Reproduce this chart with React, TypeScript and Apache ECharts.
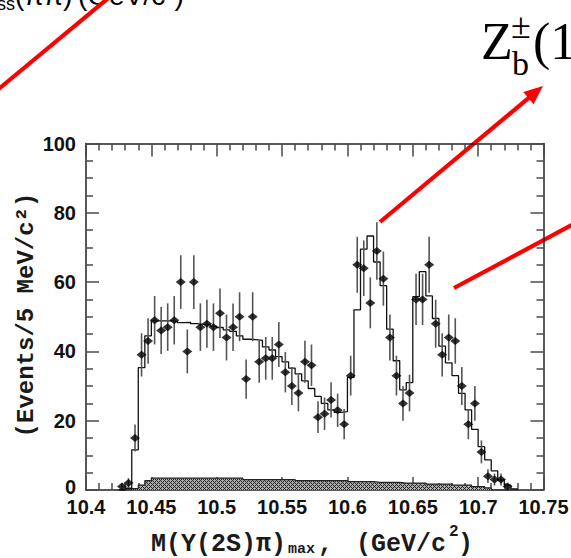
import React, { useEffect, useRef } from "react";
import * as echarts from "echarts";

// Mass bin centres (GeV/c^2) of the measured points
const massBins = [
  10.4275, 10.4325, 10.4375, 10.4425, 10.4475, 10.4525, 10.4575, 10.4625, 10.4675, 10.4725,
  10.4775, 10.4825, 10.4875, 10.4925, 10.4975, 10.5025, 10.5075, 10.5125, 10.5175, 10.5225,
  10.5275, 10.5325, 10.5375, 10.5425, 10.5475, 10.5525, 10.5575, 10.5625, 10.5675, 10.5725,
  10.5775, 10.5825, 10.5875, 10.5925, 10.5975, 10.6025, 10.6075, 10.6125, 10.6175, 10.6225,
  10.6275, 10.6325, 10.6375, 10.6425, 10.6475, 10.6525, 10.6575, 10.6625, 10.6675, 10.6725,
  10.6775, 10.6825, 10.6875, 10.6925, 10.6975, 10.7025, 10.7075, 10.7125, 10.7175, 10.7225,
];

// Events per 5 MeV bin
const eventCounts = [
  1, 2, 15, 39, 43, 49, 46, 47, 49, 60,
  40, 60, 47, 48, 47, 51, 44, 47, 50, 32,
  50, 37, 38, 38, 42, 34, 30, 28, 37, 36,
  21, 22, 26, 23, 19, 33, 65, 64, 54, 69,
  61, 44, 33, 25, 28, 55, 55, 65, 48, 39,
  44, 43, 30, 19, 25, 11, 4, 3, 3, 1,
];

// Fit histogram and background estimate, 5 MeV bins starting at 10.425
const BIN_WIDTH = 0.005;
const FIRST_EDGE = 10.425;
const fitValues = [
  0, 0.5, 11.6, 35.3, 44.5, 48.8, 48.8, 48.8, 48.6, 48.3,
  48.4, 48.0, 47.8, 47.8, 47.2, 46.9, 46.2, 45.8, 44.5, 43.5,
  43.4, 43.2, 41.3, 40.4, 38.5, 37.0, 35.2, 33.5, 31.5, 29.3,
  27.0, 25.0, 23.1, 22.4, 22.6, 32.5, 52.0, 69.5, 73.3, 65.8,
  59.0, 46.4, 37.3, 28.9, 31.0, 55.8, 63.0, 56.0, 49.5, 41.5,
  36.7, 33.0, 27.9, 23.1, 17.5, 12.5, 8.7, 5.5, 2.9, 1.4, 0.3,
];
const backgroundValues = [
  0, 0, 0.4, 1.4, 2.7, 3.4, 3.4, 3.4, 3.4, 3.4,
  3.4, 3.4, 3.4, 3.4, 3.4, 3.4, 3.4, 3.4, 3.4, 3.0,
  3.0, 3.0, 3.0, 3.0, 3.0, 3.0, 3.0, 2.7, 2.7, 2.7,
  2.7, 2.7, 2.7, 2.7, 2.7, 2.4, 2.4, 2.4, 2.4, 2.2,
  2.2, 2.2, 2.2, 2.0, 2.0, 2.0, 2.0, 1.7, 1.7, 1.7,
  1.7, 1.4, 1.4, 1.4, 1.0, 1.0, 0.6, 0, 0, 0, 0,
];

const xTickLabels = ["10.4", "10.45", "10.5", "10.55", "10.6", "10.65", "10.7", "10.75"];
const yTickLabels = ["0", "20", "40", "60", "80", "100"];

const X_MIN = 10.4;
const X_MAX = 10.75;

const stepData = (vals: number[]) => {
  const pts: number[][] = vals.map((v, i) => [+(FIRST_EDGE + i * BIN_WIDTH).toFixed(4), v]);
  const lastEdge = +(FIRST_EDGE + vals.length * BIN_WIDTH).toFixed(4);
  pts.push([lastEdge, vals[vals.length - 1]]);
  pts.push([lastEdge, 0]);
  return pts;
};

// small cross-hatch tile for the background band
const makeHatch = () => {
  const c = document.createElement("canvas");
  c.width = 4;
  c.height = 4;
  const ctx = c.getContext("2d")!;
  ctx.fillStyle = "#ababab";
  ctx.fillRect(0, 0, 4, 4);
  ctx.fillStyle = "#262626";
  for (let i = 0; i < 4; i++) {
    for (let j = 0; j < 4; j++) {
      if ((i + j) % 4 === 0 || (i - j + 4) % 4 === 0) ctx.fillRect(i, j, 1, 1);
    }
  }
  return c;
};

const arrow = (x1: number, y1: number, x2: number, y2: number, head: boolean) => {
  const dx = x2 - x1;
  const dy = y2 - y1;
  const len = Math.hypot(dx, dy);
  const ux = dx / len;
  const uy = dy / len;
  const hl = 19;
  const hw = 8;
  const items: any[] = [
    {
      type: "line",
      shape: { x1, y1, x2: head ? x2 - ux * (hl - 4) : x2, y2: head ? y2 - uy * (hl - 4) : y2 },
      style: { stroke: "#ff0000", lineWidth: 4.2 },
    },
  ];
  if (head) {
    const bx = x2 - ux * hl;
    const by = y2 - uy * hl;
    items.push({
      type: "polygon",
      shape: {
        points: [
          [x2, y2],
          [bx - uy * hw, by + ux * hw],
          [bx + uy * hw, by - ux * hw],
        ],
      },
      style: { fill: "#ff0000" },
    });
  }
  return items;
};

const monoBold = (size: number) => `bold ${size}px "Liberation Mono", "DejaVu Sans Mono", monospace`;

export default function App() {
  const ref = useRef<HTMLDivElement>(null);

  useEffect(() => {
    if (!ref.current) return;
    const chart = echarts.init(ref.current, null, { renderer: "svg" });
    const hatch = makeHatch();

    const labelStyle = {
      fontFamily: '"Liberation Sans", Arial, sans-serif',
      fontWeight: "bold" as const,
      fontSize: 20,
      color: "#111",
    };
    const tickStyle = { color: "#4a4a4a", width: 1.5 };
    const axisLine = { show: true, onZero: false, lineStyle: { color: "#222", width: 1.5 } };

    const xAxisBase = {
      type: "value" as const,
      min: X_MIN,
      max: X_MAX,
      interval: 0.05,
      axisLine,
      axisTick: { show: true, inside: true, length: 13, lineStyle: tickStyle },
      minorTick: { show: true, splitNumber: 5, length: 7, lineStyle: tickStyle },
      splitLine: { show: false },
      minorSplitLine: { show: false },
    };
    const yAxisBase = {
      type: "value" as const,
      min: 0,
      max: 100,
      interval: 20,
      axisLine,
      axisTick: { show: true, inside: true, length: 13, lineStyle: tickStyle },
      minorTick: { show: true, splitNumber: 4, length: 7, lineStyle: tickStyle },
      splitLine: { show: false },
      minorSplitLine: { show: false },
    };

    const pointData = massBins.map((m, i) => [m, eventCounts[i], Math.sqrt(eventCounts[i])]);

    chart.setOption({
      animation: false,
      backgroundColor: "#ffffff",
      grid: { left: 86, top: 143.5, right: 27.5, bottom: 68, containLabel: false, outerBoundsMode: "none" },
      xAxis: [
        {
          ...xAxisBase,
          position: "bottom",
          axisLabel: {
            ...labelStyle,
            margin: 10,
            lineHeight: 14,
            formatter: (v: number) => xTickLabels[Math.round((v - X_MIN) / 0.05)] ?? "",
          },
        },
        { ...xAxisBase, position: "top", axisLabel: { show: false } },
      ],
      yAxis: [
        {
          ...yAxisBase,
          position: "left",
          axisLabel: {
            ...labelStyle,
            margin: 10,
            lineHeight: 15,
            formatter: (v: number) => {
              const idx = Math.round(v / 20);
              // the zero label is nudged up so it clears the first x label
              return idx === 0 ? `{zero|${yTickLabels[0]}}` : yTickLabels[idx] ?? "";
            },
            rich: {
              zero: { ...labelStyle, lineHeight: 15, padding: [0, 0, 6, 0] },
            },
          },
        },
        { ...yAxisBase, position: "right", axisLabel: { show: false } },
      ],
      series: [
        {
          name: "background",
          type: "line",
          step: "end",
          data: stepData(backgroundValues),
          showSymbol: false,
          lineStyle: { color: "#222", width: 1.2 },
          areaStyle: { color: { image: hatch, repeat: "repeat" } as any, opacity: 1 },
          z: 1,
        },
        {
          name: "fit",
          type: "line",
          step: "end",
          data: stepData(fitValues),
          showSymbol: false,
          lineStyle: { color: "#111", width: 1.3 },
          z: 2,
        },
        {
          name: "errors",
          type: "custom",
          data: pointData,
          encode: { x: 0, y: 1 },
          renderItem: (_p: any, api: any) => {
            const x = api.value(0);
            const y = api.value(1);
            const e = api.value(2);
            const a = api.coord([x, y + e]);
            const b = api.coord([x, Math.max(0, y - e)]);
            return {
              type: "line",
              shape: { x1: a[0], y1: a[1], x2: b[0], y2: b[1] },
              style: { stroke: "#555", lineWidth: 1.6 },
            };
          },
          z: 3,
        },
        {
          name: "data",
          type: "scatter",
          data: pointData.map((p) => [p[0], p[1]]),
          symbol: "diamond",
          symbolSize: [10, 8],
          itemStyle: { color: "#000" },
          z: 4,
        },
      ],
      graphic: [
        // y-axis title
        {
          type: "text",
          x: 26,
          y: 315,
          rotation: Math.PI / 2,
          style: {
            text: "(Events/5 MeV/c²)",
            font: monoBold(24),
            fill: "#1a1a1a",
            align: "center",
            verticalAlign: "middle",
          },
        },
        // x-axis title
        { type: "text", x: 151, y: 544, style: { text: "M(Υ(2S)π)", font: monoBold(25), fill: "#1a1a1a", align: "left", verticalAlign: "middle" } },
        { type: "text", x: 288, y: 549.5, style: { text: "max", font: monoBold(15), fill: "#1a1a1a", align: "left", verticalAlign: "middle" } },
        { type: "text", x: 318, y: 544, style: { text: ",", font: monoBold(25), fill: "#1a1a1a", align: "left", verticalAlign: "middle" } },
        { type: "text", x: 356, y: 544, style: { text: "(GeV/c", font: monoBold(25), fill: "#1a1a1a", align: "left", verticalAlign: "middle" } },
        { type: "text", x: 449, y: 532, style: { text: "2", font: monoBold(16), fill: "#1a1a1a", align: "left", verticalAlign: "middle" } },
        { type: "text", x: 458, y: 544, style: { text: ")", font: monoBold(25), fill: "#1a1a1a", align: "left", verticalAlign: "middle" } },
        // resonance annotation
        { type: "text", x: 481, y: 41, style: { text: "Z", font: '52px "Liberation Serif", serif', fill: "#000", align: "left", verticalAlign: "middle" } },
        { type: "text", x: 512, y: 63, style: { text: "b", font: '34px "Liberation Serif", serif', fill: "#000", align: "left", verticalAlign: "middle" } },
        { type: "text", x: 511, y: 26, style: { text: "±", font: '36px "Liberation Serif", serif', fill: "#000", align: "left", verticalAlign: "middle" } },
        { type: "text", x: 533, y: 41, style: { text: "(10610)", font: '52px "Liberation Serif", serif', fill: "#000", align: "left", verticalAlign: "middle" } },
        // missing-mass label at the top edge
        { type: "text", x: -19, y: -5, style: { text: "M", font: '28px "Liberation Sans", sans-serif', fill: "#000", align: "right", verticalAlign: "middle" } },
        { type: "text", x: 15, y: 4, style: { text: "miss", font: '18px "Liberation Sans", sans-serif', fill: "#000", align: "right", verticalAlign: "middle" } },
        { type: "text", x: 15, y: -5, style: { text: "(ππ)", font: '28px "Liberation Sans", sans-serif', fill: "#000", align: "left", verticalAlign: "middle" } },
        { type: "text", x: 78, y: -5, style: { text: "(GeV/c²)", font: '28px "Liberation Sans", sans-serif', fill: "#000", align: "left", verticalAlign: "middle" } },
        // red pointers
        ...arrow(-5, 92, 112, -5, false),
        ...arrow(380, 222, 543, 86, true),
        ...arrow(454, 288, 600, 210, false),
      ],
    });

    return () => chart.dispose();
  }, []);

  return (
    <div
      ref={ref}
      style={{ position: "fixed", left: 0, top: 0, width: 571, height: 558, background: "#fff" }}
    />
  );
}
